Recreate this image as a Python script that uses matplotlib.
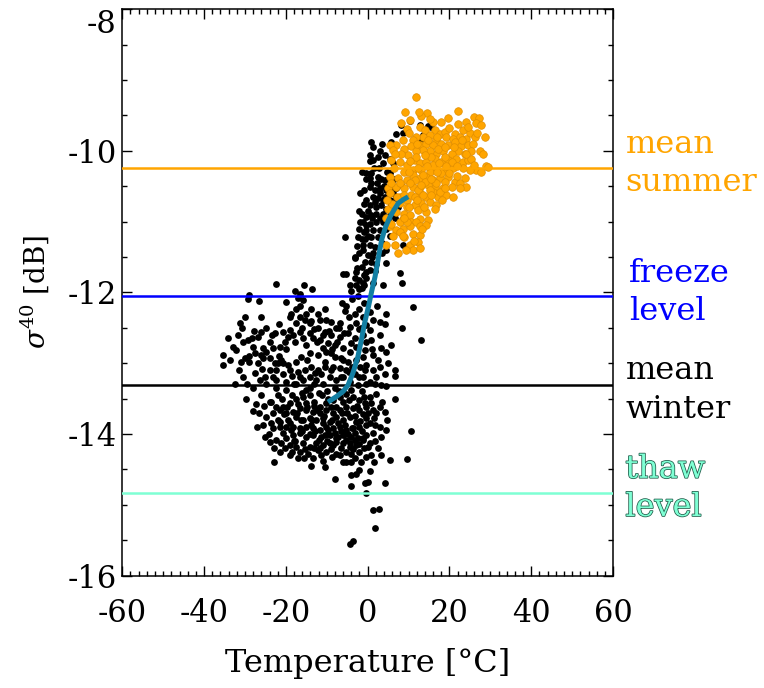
import numpy as np
import matplotlib
matplotlib.use('Agg')
import matplotlib.pyplot as plt
import matplotlib.patheffects as pe
from matplotlib.ticker import MultipleLocator

plt.rcParams['font.family'] = 'DejaVu Serif'
plt.rcParams['mathtext.fontset'] = 'dejavuserif'
plt.rcParams['axes.unicode_minus'] = False

# winter / transition samples (temperature degC, sigma40 dB)
winter_column = [
    (8.2, -9.64), (10.3, -9.58), (12.7, -9.64), (14.8, -9.65), (15.6, -9.67), (13.5, -9.78), (13.1, -9.84),
    (0.7, -9.87), (7.0, -9.76), (8.6, -9.75), (5.8, -9.87), (2.9, -10.01), (4.2, -10.06), (5.4, -10.11),
    (0.5, -10.06), (1.3, -10.13), (3.7, -10.18), (6.2, -10.18), (2.5, -10.09), (-0.3, -10.32), (0.9, -10.32),
    (0.5, -10.39), (2.5, -10.37), (4.2, -10.41), (5.4, -10.32), (0.5, -10.51), (1.7, -10.56), (2.9, -10.53),
    (4.6, -10.56), (6.2, -10.60), (7.0, -10.53), (8.2, -10.49), (1.3, -10.65), (-0.3, -10.70), (2.5, -10.67),
    (4.2, -10.65), (5.4, -10.70), (7.0, -10.67), (0.5, -10.77), (2.1, -10.79), (3.3, -10.77), (4.6, -10.82),
    (5.8, -10.77), (7.4, -10.79), (-1.5, -10.89), (-0.3, -10.93), (0.9, -10.91), (2.1, -10.89), (3.7, -10.89),
    (5.4, -10.91), (-1.1, -11.00), (0.5, -11.03), (2.1, -11.00), (3.7, -11.00), (5.0, -10.98), (-2.0, -11.10),
    (-0.3, -11.12), (1.3, -11.12), (2.9, -11.12), (-2.4, -11.22), (-0.7, -11.24), (0.9, -11.22), (2.5, -11.22),
    (-5.6, -11.22), (-1.1, -11.33), (0.5, -11.33), (1.7, -11.36), (6.6, -11.33), (8.6, -11.33), (-2.0, -11.45),
    (0.1, -11.47), (1.3, -11.45), (4.6, -11.40), (-3.2, -11.52), (-0.7, -11.57), (0.9, -11.57), (-1.5, -11.64),
    (0.5, -11.69), (4.6, -11.59),
    (-1.0, -10.75), (0.0, -10.85), (1.0, -10.95), (-0.5, -11.05), (1.8, -10.72), (3.0, -10.95), (-1.8, -11.00),
    (0.2, -11.20), (-1.2, -11.40), (3.2, -10.40), (1.5, -10.25), (-0.8, -10.55), (2.2, -10.45), (3.8, -10.70),
    (4.8, -10.30), (6.5, -10.40), (1.0, -11.50), (-2.6, -11.65), (-1.0, -11.90), (0.6, -10.15), (-1.5, -10.30),
    (-2.5, -11.35), (3.5, -11.30),
    (-1.8, -10.60), (-2.2, -10.85), (-0.9, -11.15), (-1.4, -11.25), (0.8, -10.45), (-0.5, -10.40), (2.8, -10.25),
    (4.0, -10.50), (3.0, -10.60), (5.8, -10.55), (6.8, -10.95), (4.4, -11.10), (3.4, -11.45), (2.0, -11.60),
    (5.5, -11.20), (1.2, -9.95), (3.5, -9.90),
]

winter_mid = [
    (-6.0, -11.74), (-5.2, -11.74), (-2.8, -11.71), (-0.3, -11.71), (-3.2, -11.80), (-2.0, -11.82), (-0.3, -11.80),
    (-1.1, -11.87), (-2.8, -11.90), (-4.0, -11.98), (-1.5, -11.94), (1.3, -11.87), (3.7, -11.90), (7.8, -11.72),
    (8.5, -11.87), (-22.3, -11.88), (-15.6, -11.90), (-13.5, -11.96), (-17.8, -11.98), (-16.6, -12.02),
    (-28.9, -12.04), (-29.3, -12.10), (-26.6, -12.12), (-20.0, -12.14), (-15.8, -12.11), (-17.0, -12.08),
    (11.1, -12.21), (8.4, -12.51), (13.0, -12.67), (4.6, -12.31), (4.2, -12.45), (1.3, -12.39), (-2.0, -12.24),
    (-5.2, -12.20), (-5.6, -12.27), (-3.2, -12.30), (-1.1, -12.35), (-0.3, -12.46), (0.5, -12.53), (-2.8, -12.44),
    (-4.4, -12.49), (-6.8, -12.44), (-8.9, -12.42), (-7.7, -12.51), (-10.1, -12.39), (-11.7, -12.39),
    (-12.1, -12.30), (-10.5, -12.24), (-13.8, -12.24), (-16.6, -12.20), (-17.4, -12.24), (-18.7, -12.30),
    (-16.6, -12.35), (-15.4, -12.39), (-14.2, -12.44), (-17.4, -12.44), (-19.1, -12.53), (-16.6, -12.56),
    (-14.2, -12.58), (-12.1, -12.51), (-10.5, -12.56), (-8.9, -12.60), (-6.8, -12.63), (-4.8, -12.58),
    (-3.2, -12.65), (-1.1, -12.60), (0.9, -12.67), (2.9, -12.60), (3.3, -12.79), (5.8, -12.75), (4.6, -12.84),
    (1.3, -12.89), (-0.7, -12.82), (-2.8, -12.77), (-4.4, -12.84), (-6.0, -12.79), (-8.1, -12.75), (-9.7, -12.72),
    (-11.7, -12.67), (-13.4, -12.65), (-15.8, -12.65), (-17.8, -12.70), (-19.5, -12.63), (-20.3, -12.70),
    (-21.5, -12.77), (-23.1, -12.79), (-24.8, -12.84), (-26.0, -12.56), (-26.8, -12.63), (-24.8, -12.51),
    (-26.0, -12.35), (-30.1, -12.35), (-31.3, -12.44), (-34.1, -12.65), (-32.9, -12.77), (-32.1, -12.82),
    (-30.5, -12.70), (-29.3, -12.67), (-28.0, -12.77), (-27.6, -12.86), (-30.1, -12.93), (-30.9, -12.98),
    (-35.4, -12.89), (-35.4, -13.03), (-28.9, -12.98), (-26.8, -13.00), (-25.6, -12.93), (-24.0, -12.93),
    (-22.7, -13.00), (-21.1, -12.96), (-19.5, -13.03), (-17.4, -12.98), (-16.2, -12.91), (-14.2, -12.86),
    (-12.1, -12.89), (-10.1, -12.84), (-8.1, -12.91), (-6.4, -12.93), (-4.8, -12.98), (-2.8, -12.96),
    (-1.1, -12.91), (-0.3, -13.03), (1.3, -13.10), (2.9, -13.05), (5.0, -13.00), (6.6, -13.10), (6.6, -13.18),
    (4.2, -13.15), (2.1, -13.19), (0.5, -13.26), (-1.1, -13.19), (-3.2, -13.15), (-5.2, -13.10), (-6.8, -13.07),
    (-8.5, -13.05), (-10.5, -13.05), (-12.1, -13.10), (-13.8, -13.05), (-15.4, -13.10), (-17.0, -13.12),
    (-19.1, -13.10), (-20.7, -13.15), (-22.3, -13.10), (-24.0, -13.10), (-25.2, -13.19), (-26.4, -13.24),
    (-30.5, -13.19), (-24.8, -13.29), (-22.3, -13.24), (-19.9, -13.26), (-17.4, -13.29), (-15.8, -13.24),
    (-14.2, -13.19), (-12.6, -13.24), (-10.9, -13.29), (-9.3, -13.19), (-7.7, -13.24), (-6.0, -13.19),
    (-4.4, -13.26), (-2.4, -13.31), (-0.3, -13.29), (1.7, -13.29), (3.3, -13.31), (4.6, -13.33),
    (-21.8, -12.45), (-19.0, -12.35), (-18.2, -12.60), (-15.0, -12.30), (-13.8, -12.40), (-12.5, -12.70),
    (-10.8, -12.60), (-9.0, -12.85), (-7.6, -12.70), (-5.8, -12.58), (-4.0, -12.72), (-2.2, -12.52),
    (-0.5, -12.70), (1.0, -12.80), (2.5, -12.95), (-1.8, -13.05), (-4.5, -13.12), (-6.6, -13.20), (-9.0, -13.10),
    (-11.4, -13.16), (-13.2, -13.30), (-15.0, -13.38), (-16.6, -13.20), (-18.6, -13.18), (-20.6, -13.00),
    (-21.6, -12.90), (-23.2, -13.20), (-25.8, -13.08), (-27.6, -13.14), (-29.6, -13.30), (-31.8, -12.60),
    (-33.6, -12.95), (-32.5, -13.30), (-30.8, -12.50), (-28.4, -12.65), (-26.2, -12.88), (-24.0, -12.70),
    (-22.6, -12.58), (-20.8, -12.56),
    (-3.8, -12.10), (-2.4, -12.05), (-0.8, -12.15), (0.6, -12.28), (2.2, -12.20), (-4.6, -12.35), (-6.2, -12.15),
    (-1.6, -12.50), (3.0, -12.42), (-3.0, -11.50), (-1.0, -11.75), (-4.2, -11.90), (1.8, -11.70), (-2.2, -11.95),
]

winter_low = [
    (-29.7, -13.50), (-27.2, -13.58), (-28.0, -13.68), (-23.6, -13.55), (-22.3, -13.62), (-20.7, -13.62),
    (-19.1, -13.57), (-17.4, -13.50), (-15.8, -13.48), (-14.2, -13.45), (-13.0, -13.55), (-11.7, -13.62),
    (-10.1, -13.57), (-8.5, -13.52), (-6.8, -13.48), (-5.2, -13.43), (-3.6, -13.48), (-2.0, -13.52),
    (-0.7, -13.57), (0.5, -13.48), (2.1, -13.43), (6.6, -13.50), (2.9, -13.62), (1.3, -13.66), (-0.3, -13.62),
    (-2.0, -13.66), (-3.6, -13.64), (-5.2, -13.62), (-6.8, -13.66), (-8.5, -13.71), (-10.1, -13.66),
    (-11.7, -13.71), (-13.4, -13.69), (-15.0, -13.66), (-16.6, -13.64), (-18.3, -13.69), (-19.9, -13.71),
    (-21.5, -13.66), (-23.1, -13.71), (-24.8, -13.76), (-23.6, -13.85), (-21.5, -13.83), (-19.5, -13.80),
    (-17.4, -13.76), (-15.8, -13.80), (-14.2, -13.78), (-12.6, -13.80), (-10.9, -13.78), (-9.3, -13.83),
    (-7.7, -13.76), (-6.0, -13.80), (-4.4, -13.76), (-2.8, -13.83), (-0.3, -13.78), (2.1, -13.71), (4.2, -13.69),
    (2.9, -13.90), (-0.3, -13.88), (-2.0, -13.90), (-3.6, -13.92), (-5.2, -13.95), (-6.8, -13.90), (-8.5, -13.92),
    (-10.1, -13.90), (-11.7, -13.95), (-13.4, -13.92), (-15.0, -13.90), (-16.6, -13.92), (-18.3, -13.90),
    (-19.9, -13.90), (-21.5, -13.90), (-23.1, -13.92), (-25.6, -13.88), (-20.7, -13.99), (-18.3, -14.02),
    (-16.6, -13.99), (-15.0, -14.04), (-13.4, -14.02), (-11.3, -14.04), (-9.3, -14.02), (-7.7, -14.06),
    (-6.0, -14.02), (-4.0, -14.04), (-2.4, -14.06), (-0.3, -14.02), (1.3, -13.99), (4.6, -13.95), (10.7, -13.96),
    (3.3, -14.04), (0.5, -14.13), (-1.1, -14.09), (-2.8, -14.16), (-4.4, -14.13), (-6.0, -14.13), (-7.7, -14.11),
    (-9.3, -14.13), (-10.9, -14.16), (-12.6, -14.13), (-14.2, -14.18), (-15.8, -14.13), (-17.4, -14.18),
    (-19.1, -14.16), (-21.1, -14.13), (-22.3, -14.09), (-24.0, -14.11), (-21.5, -14.25), (-16.6, -14.25),
    (-14.6, -14.28), (-12.1, -14.23), (-10.1, -14.25), (-7.7, -14.28), (-5.2, -14.25), (-4.0, -14.28),
    (-2.0, -14.25), (-0.3, -14.32), (0.9, -14.30), (3.3, -14.30), (5.4, -14.37), (9.5, -14.35), (-5.2, -14.39),
    (-4.0, -14.39), (-13.8, -14.46), (-10.5, -14.47), (-2.0, -14.51), (-2.8, -14.56), (0.5, -14.53),
    (-4.0, -14.58), (-8.1, -14.64), (-0.7, -14.70), (0.1, -14.68), (4.2, -14.69), (-4.0, -14.74), (-0.3, -14.84),
    (1.3, -15.08), (2.7, -15.06), (1.9, -15.33), (-3.6, -15.51), (-4.4, -15.55),
]

winter_core = [
    (-14.0, -13.35), (-12.0, -13.42), (-10.0, -13.40), (-8.0, -13.35), (-6.0, -13.55), (-4.0, -13.38),
    (-1.5, -13.40), (0.8, -13.56), (-1.2, -13.72), (-3.0, -13.74), (-5.0, -13.70), (-7.2, -13.84), (-9.0, -13.62),
    (-11.0, -13.84), (-13.0, -13.60), (-15.0, -13.56), (-17.0, -13.58), (-19.0, -13.84), (-20.0, -14.06),
    (-18.0, -14.10), (-16.0, -13.96), (-14.0, -14.00), (-12.0, -14.08), (-10.0, -14.10), (-8.0, -13.98),
    (-6.5, -13.96), (-4.8, -14.00), (-3.0, -14.08), (-1.5, -13.96), (0.5, -13.84), (1.8, -13.88), (-13.0, -14.20),
    (-11.5, -14.30), (-9.0, -14.22), (-6.8, -14.30), (-3.5, -14.22), (-1.0, -14.20), (-15.5, -14.34),
    (-18.5, -14.26), (-8.6, -12.80), (-10.5, -12.98), (-12.8, -13.14), (-14.8, -12.96), (-6.0, -12.95),
    (-3.8, -13.05), (-2.0, -13.20), (-0.6, -13.10), (-7.0, -12.50), (-9.5, -12.55), (-11.0, -12.78),
    (-13.0, -12.52), (-15.0, -12.75), (-16.0, -12.50), (-20.0, -12.80), (-22.0, -13.00), (-23.5, -12.60),
    (-25.5, -12.78), (-27.8, -12.55), (-29.0, -12.90), (-31.5, -13.10), (-28.0, -13.35), (-26.0, -13.45),
    (-24.0, -13.55), (-22.0, -13.45), (-20.0, -13.38), (-18.0, -13.30),
    (-22.5, -13.35), (-21.0, -13.50), (-19.8, -13.62), (-18.6, -13.45), (-17.2, -13.70), (-16.0, -13.42),
    (-14.8, -13.62), (-13.6, -13.80), (-12.4, -13.66), (-11.2, -13.45), (-10.6, -13.74), (-9.6, -13.50),
    (-8.8, -13.80), (-7.8, -13.62), (-7.0, -13.40), (-6.2, -13.70), (-5.6, -13.88), (-4.6, -13.52),
    (-3.8, -13.92), (-2.6, -13.60), (-1.8, -13.82), (-0.8, -13.48), (0.2, -13.70), (1.5, -13.78), (3.5, -13.55),
    (4.8, -13.80), (-22.0, -13.80), (-20.5, -13.72), (-18.8, -13.95), (-17.8, -14.10), (-16.4, -13.80),
    (-15.2, -14.22), (-13.8, -13.88), (-12.8, -13.96), (-11.6, -14.20), (-10.4, -14.02), (-9.6, -13.94),
    (-8.4, -14.16), (-7.2, -14.04), (-6.4, -14.20), (-5.4, -14.08), (-4.2, -14.18), (-3.2, -13.98),
    (-2.2, -14.14), (-1.2, -14.06), (0.0, -14.18), (1.8, -14.10), (2.6, -14.20), (-24.2, -14.00),
    (-22.8, -14.20), (-20.2, -14.20), (-19.0, -14.30), (-17.0, -14.34), (-13.4, -14.34), (-11.0, -14.38),
    (-8.8, -14.32), (-6.0, -14.40), (-3.0, -14.34), (-1.6, -14.40), (1.5, -14.40), (-26.5, -13.70),
    (-25.4, -13.60), (-27.0, -13.90), (-25.0, -14.05), (-23.0, -14.40),
]

# summer samples
summer_pts = [
    (11.7, -9.24), (14.5, -9.47), (13.1, -9.51), (19.6, -9.54), (22.1, -9.44), (25.9, -9.53), (27.2, -9.54),
    (26.6, -9.61), (27.8, -9.63), (24.1, -9.59), (10.3, -9.57), (8.2, -9.61), (16.0, -9.59),
    (9.5, -9.69), (12.7, -9.67), (13.9, -9.70), (16.4, -9.71), (17.6, -9.76), (18.8, -9.73), (19.2, -9.80),
    (21.3, -9.76), (22.5, -9.80), (23.3, -9.71), (24.9, -9.75), (26.2, -9.80), (24.1, -9.83), (20.9, -9.83),
    (15.2, -9.78), (13.5, -9.80), (11.9, -9.80), (11.1, -9.85), (16.8, -9.85),
    (7.0, -9.92), (9.0, -9.97), (10.7, -9.94), (12.7, -9.92), (14.3, -9.90), (16.0, -9.92), (18.0, -9.90),
    (19.6, -9.92), (21.3, -9.87), (22.9, -9.94), (24.5, -9.92), (25.8, -9.90), (27.4, -10.01), (28.2, -10.04),
    (25.3, -10.01), (23.7, -10.04), (22.1, -10.01), (20.5, -10.04), (18.4, -10.01), (16.8, -10.04),
    (15.2, -10.01), (13.5, -9.99), (11.9, -10.01), (9.9, -10.06), (8.2, -10.04),
    (5.8, -10.13), (7.8, -10.16), (9.5, -10.20), (11.5, -10.13), (12.7, -10.18), (14.3, -10.16), (16.4, -10.11),
    (18.0, -10.16), (19.6, -10.13), (21.7, -10.11), (23.3, -10.16), (24.5, -10.13), (25.3, -10.11),
    (29.0, -10.22), (29.4, -10.23), (26.6, -10.27), (24.9, -10.27), (23.3, -10.25), (20.9, -10.25),
    (18.8, -10.27), (16.8, -10.25), (15.2, -10.30), (13.1, -10.27), (11.1, -10.27), (9.0, -10.30),
    (5.4, -10.37), (7.4, -10.39), (9.5, -10.42), (11.1, -10.34), (12.7, -10.39), (14.3, -10.37), (16.0, -10.42),
    (17.6, -10.39), (19.6, -10.37), (21.3, -10.44), (22.5, -10.46), (23.7, -10.39), (24.1, -10.51),
    (22.5, -10.53), (20.5, -10.51), (18.4, -10.53), (16.4, -10.51), (14.8, -10.49), (12.7, -10.51),
    (11.1, -10.51), (9.0, -10.53), (7.0, -10.51), (5.0, -10.53),
    (5.4, -10.60), (7.8, -10.65), (9.5, -10.70), (10.7, -10.63), (12.7, -10.60), (14.3, -10.65), (16.0, -10.58),
    (17.2, -10.65), (19.2, -10.63), (20.9, -10.65), (15.2, -10.72), (13.1, -10.74), (11.5, -10.77),
    (9.5, -10.79), (16.8, -10.77), (7.8, -10.74),
    (7.0, -10.86), (9.0, -10.89), (10.3, -10.91), (12.3, -10.84), (14.3, -10.86), (16.4, -10.82),
    (12.7, -10.96), (14.8, -10.98), (10.7, -11.00), (8.6, -10.96), (7.8, -11.00), (11.9, -11.00),
    (5.4, -11.07), (7.0, -11.12), (8.6, -11.10), (10.3, -11.07), (12.7, -11.07), (14.3, -11.05),
    (11.1, -11.17), (12.7, -11.19), (9.0, -11.22), (7.8, -11.15),
    (4.6, -11.33), (6.6, -11.33), (10.3, -11.33), (12.3, -11.29), (11.1, -11.40), (12.7, -11.38),
    (15.6, -10.09), (17.2, -9.97), (18.8, -10.09), (20.5, -10.16), (13.9, -10.06), (11.9, -10.09),
    (16.0, -10.20), (18.0, -10.32), (20.0, -10.32), (13.5, -10.34), (11.5, -10.42), (16.8, -10.46),
    (18.8, -10.44), (12.3, -10.56), (15.2, -10.56), (10.3, -10.46), (17.6, -10.58), (13.9, -10.44),
    (5.4, -9.92), (6.2, -9.99), (5.0, -10.82), (5.8, -11.03), (4.6, -10.95),
    (10.0, -9.75), (12.0, -9.90), (14.8, -9.85), (17.0, -9.80), (19.0, -9.95), (21.0, -9.95), (23.0, -9.85),
    (26.8, -9.75), (8.6, -9.85), (10.4, -10.15), (12.4, -10.25), (14.6, -10.22), (17.4, -10.18), (19.2, -10.22),
    (21.8, -10.22), (24.0, -10.05), (26.0, -10.20), (27.8, -10.30), (8.0, -10.45), (10.0, -10.30),
    (13.0, -10.48), (15.6, -10.40), (17.0, -10.30), (19.0, -10.52), (21.8, -10.35), (6.4, -10.25),
    (7.2, -10.65), (9.0, -10.62), (11.6, -10.65), (13.6, -10.62), (15.4, -10.62), (18.2, -10.70),
    (6.0, -10.75), (8.6, -11.20), (10.0, -10.80), (12.0, -10.70), (13.8, -10.80), (6.2, -11.20), (9.6, -11.00),
    (11.4, -11.28), (13.4, -11.10), (7.4, -11.45), (9.4, -11.40), (4.8, -10.70), (5.6, -10.45), (6.8, -10.05),
    (9.2, -9.45), (15.2, -9.55), (18.0, -9.60), (20.0, -9.68), (22.2, -9.62), (24.6, -9.66), (28.6, -9.80),
    (12.6, -9.45), (8.8, -10.95),
]

# fitted transition curve
fit_t = [-9.7, -7.6, -6.0, -4.8, -3.6, -2.4, -1.5, -0.7, 0.2, 1.0, 1.8, 2.6, 3.4, 4.4, 5.5, 6.5, 7.5, 8.7, 9.9]
fit_s = [-13.55, -13.47, -13.40, -13.31, -13.14, -12.91, -12.66, -12.42, -12.20, -11.98, -11.78, -11.52,
         -11.26, -11.07, -10.93, -10.83, -10.74, -10.69, -10.65]

# reference levels [dB]
mean_summer = -10.25
freeze_level = -12.05
mean_winter = -13.31
thaw_level = -14.84

winter = np.array(winter_column + winter_mid + winter_low + winter_core)
summer = np.array(summer_pts)

fig = plt.figure(figsize=(7.64, 6.88), dpi=100)
ax = fig.add_axes([0.160, 0.1635, 0.6425, 0.8232])

ax.scatter(winter[:, 0], winter[:, 1], s=24, c='black', linewidths=0, zorder=2)
ax.scatter(summer[:, 0], summer[:, 1], s=30, c='#FFA500', edgecolors='#E08E00', linewidths=0.5, zorder=3)

ax.axhline(mean_summer, color='#FFA500', lw=1.8, zorder=4)
ax.axhline(freeze_level, color='#0000FF', lw=1.8, zorder=4)
ax.axhline(mean_winter, color='black', lw=1.8, zorder=4)
ax.axhline(thaw_level, color='#7FFFD4', lw=1.8, zorder=4)

ax.plot(fit_t, fit_s, color='#137FA3', lw=3.6, solid_capstyle='butt', zorder=5)

ax.set_xlim(-60, 60)
ax.set_ylim(-16, -8)
ax.set_xticks([-60, -40, -20, 0, 20, 40, 60])
ax.set_yticks([-16, -14, -12, -10, -8])
ax.xaxis.set_minor_locator(MultipleLocator(2))
ax.yaxis.set_minor_locator(MultipleLocator(0.5))
ax.tick_params(which='both', direction='in', top=True, right=True, labelsize=22, width=1)
ax.tick_params(which='major', length=7)
ax.tick_params(which='minor', length=3.5)
ax.tick_params(axis='x', which='major', pad=16)
ax.tick_params(axis='y', which='major', pad=4)
for sp in ax.spines.values():
    sp.set_linewidth(1.1)

# top label sits below its tick so it stays inside the figure
fig.canvas.draw()
ax.get_yticklabels()[-1].set_va('top')

ax.set_xlabel('Temperature [°C]', fontsize=23, labelpad=14)
ax.set_ylabel(r'$\sigma^{40}$ [dB]', fontsize=20, labelpad=12)

ty = ax.get_yaxis_transform()
ax.text(1.025, -10.18, 'mean\nsummer', transform=ty, color='#FFA500', fontsize=23,
        va='center', ha='left', linespacing=1.3)
ax.text(1.033, -12.0, 'freeze\nlevel', transform=ty, color='#0000FF', fontsize=23,
        va='center', ha='left', linespacing=1.3)
ax.text(1.025, -13.38, 'mean\nwinter', transform=ty, color='black', fontsize=23,
        va='center', ha='left', linespacing=1.3)
ax.text(1.025, -14.77, 'thaw\nlevel', transform=ty, color='#7FFFD4', fontsize=23,
        va='center', ha='left', linespacing=1.3,
        path_effects=[pe.Stroke(linewidth=1.1, foreground='#1F5A48'), pe.Normal()])

fig.savefig('out.png', dpi=100)
